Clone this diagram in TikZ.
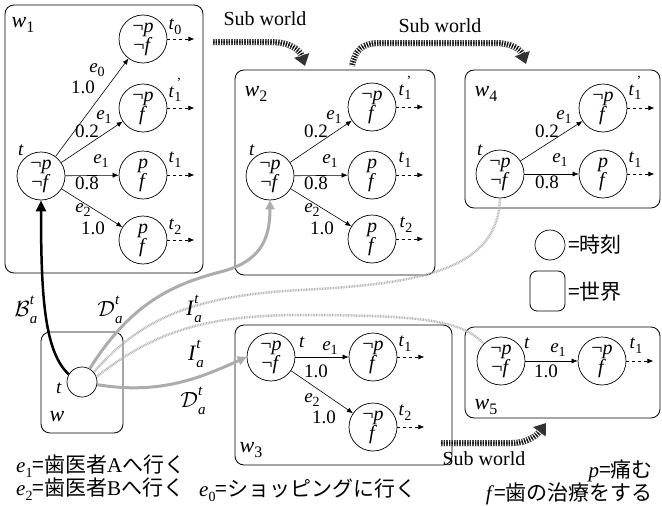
\RequirePackage{fix-cm}
\documentclass[tikz,border=0pt]{standalone}
\usepackage{fontspec}
\setmainfont{Liberation Serif}
\newfontfamily\cjk{Noto Sans CJK JP}
\usetikzlibrary{arrows.meta}
\newcommand{\sbs}[1]{\raisebox{-0.25em}{\fontsize{14}{14}\selectfont #1}}
\newcommand{\sbw}[1]{\raisebox{-0.25em}{\fontsize{16}{16}\selectfont #1}}
\newcommand{\iv}[2]{\textit{#1}\sbs{#2}}
\newcommand{\wv}[2]{\textit{#1}\sbw{#2}}
\newcommand{\tpr}{\textit{t}\rlap{\raisebox{0.5em}{\fontsize{14}{14}\selectfont\,’}}\sbs{1}}
\newcommand{\rel}[1]{#1\rlap{\raisebox{0.55em}{\fontsize{15}{15}\selectfont\textit{t}}}\raisebox{-0.3em}{\fontsize{15}{15}\selectfont\textit{a}}}
\newcommand{\nn}{¬\textit{p}\\¬\textit{f}}
\newcommand{\nf}{¬\textit{p}\\\textit{f}}
\newcommand{\pf}{\textit{p}\\\textit{f}}
\tikzset{
  st/.style={circle, draw, line width=0.7pt, minimum size=48pt, inner sep=0pt, align=center,
             font=\fontsize{20}{19}\selectfont},
  wbox/.style={draw, rounded corners=9pt, line width=0.8pt},
  edg/.style={-{Latex[length=6pt,width=5pt]}, line width=0.6pt},
  cont/.style={dashed, line width=0.6pt, -{Latex[length=6pt,width=5pt]}},
  lbl/.style={inner sep=0pt, font=\fontsize{19}{19}\selectfont},
  mlbl/.style={inner sep=0pt, font=\fontsize{22}{22}\selectfont},
  wl/.style={inner sep=0pt, font=\fontsize{22}{22}\selectfont},
  dline/.style={line width=3pt, draw=gray!65, -{Triangle[length=9pt,width=9pt]}},
  iline/.style={line width=2.5pt, draw=gray!60, dash pattern=on 0.8pt off 0.8pt},
  bline/.style={line width=2.5pt, draw=black, -{Triangle[length=11pt,width=10pt]}},
  subbase/.style={line width=6pt, draw=black!80, -{Triangle[length=11pt,width=15pt]}},
  subover/.style={line width=6pt, draw=white, dash pattern=on 1pt off 1.6pt, shorten >=11pt},
  subover2/.style={line width=2pt, draw=black, dash pattern=on 1pt off 1.6pt, dash phase=1.3pt, shorten >=11pt},
  cjkt/.style={inner sep=0pt, font=\fontsize{21}{21}\selectfont},
  cjkl/.style={inner sep=0pt, font=\cjk\fontsize{21}{21}\selectfont},
}
\begin{document}
\begin{tikzpicture}[x=1pt,y=-1pt]
\useasboundingbox (0,0) rectangle (662,506);

% ---------- world boxes ----------
\draw[wbox] (5,5) rectangle (203,273);
\draw[wbox] (235,70) rectangle (435,275);
\draw[wbox] (465,70) rectangle (660,208);
\draw[wbox] (235,325) rectangle (452,465);
\draw[wbox] (465,327) rectangle (660,418);
\draw[wbox] (41,332) rectangle (123,433);

\node[wl] (lw1) at (23,25) {\wv{w}{1}};
\node[wl] (lw2) at (256,94) {\wv{w}{2}};
\node[wl] (lw4) at (486,94) {\wv{w}{4}};
\node[wl] (lw3) at (251,450) {\wv{w}{3}};
\node[wl] (lw5) at (486,407) {\wv{w}{5}};
\node[wl] (lw) at (57,417) {\textit{w}};

% ---------- w1 ----------
\node[st] (a) at (41,176) {\nn};
\node[st] (a0) at (143,39) {\nn};
\node[st] (a1p) at (143,108) {\nf};
\node[st] (a1) at (143,175) {\pf};
\node[st] (a2) at (143,240) {\pf};
\draw[edg] (a) -- (a0);
\draw[edg] (a) -- (a1p);
\draw[edg] (a) -- (a1);
\draw[edg] (a) -- (a2);
\node[lbl] (ae0) at (97,70) {\iv{e}{0}};
\node[lbl] (ap0) at (83,87) {1.0};
\node[lbl] (ae1p) at (104,117) {\iv{e}{1}};
\node[lbl] (ap1p) at (87,131) {0.2};
\node[lbl] (ae1) at (101,161) {\iv{e}{1}};
\node[lbl] (ap1) at (87,183) {0.8};
\node[lbl] (ae2) at (83,210) {\iv{e}{2}};
\node[lbl] (ap2) at (93,228) {1.0};
\node[lbl] (at) at (21,150) {\textit{t}};
\node[lbl] (at0) at (175,27) {\iv{t}{0}};
\node[lbl] (at1p) at (175,90) {\tpr};
\node[lbl] (at1) at (175,160) {\iv{t}{1}};
\node[lbl] (at2) at (175,227) {\iv{t}{2}};
\foreach \n in {a0,a1p,a1,a2} {
  \coordinate (\n x) at ([xshift=27pt]\n.east);
  \draw[cont] (\n.east) -- (\n x);
}

% ---------- w2 ----------
\node[st] (b) at (270,176) {\nn};
\node[st] (b1p) at (372,107) {\nf};
\node[st] (b1) at (372,175) {\pf};
\node[st] (b2) at (372,239) {\pf};
\draw[edg] (b) -- (b1p);
\draw[edg] (b) -- (b1);
\draw[edg] (b) -- (b2);
\node[lbl] (be1p) at (334,117) {\iv{e}{1}};
\node[lbl] (bp1p) at (316,131) {0.2};
\node[lbl] (be1) at (330,161) {\iv{e}{1}};
\node[lbl] (bp1) at (316,183) {0.8};
\node[lbl] (be2) at (312,210) {\iv{e}{2}};
\node[lbl] (bp2) at (322,228) {1.0};
\node[lbl] (bt) at (252,150) {\textit{t}};
\node[lbl] (bt1p) at (405,88) {\tpr};
\node[lbl] (bt1) at (405,160) {\iv{t}{1}};
\node[lbl] (bt2) at (406,225) {\iv{t}{2}};
\foreach \n in {b1p,b1,b2} {
  \coordinate (\n x) at ([xshift=27pt]\n.east);
  \draw[cont] (\n.east) -- (\n x);
}

% ---------- w4 ----------
\node[st] (c) at (500,174) {\nn};
\node[st] (c1p) at (603,108) {\nf};
\node[st] (c1) at (603,174) {\pf};
\draw[edg] (c) -- (c1p);
\draw[edg] (c) -- (c1);
\node[lbl] (ce1p) at (564,117) {\iv{e}{1}};
\node[lbl] (cp1p) at (547,131) {0.2};
\node[lbl] (ce1) at (560,160) {\iv{e}{1}};
\node[lbl] (cp1) at (547,182) {0.8};
\node[lbl] (ct) at (480,150) {\textit{t}};
\node[lbl] (ct1p) at (635,88) {\tpr};
\node[lbl] (ct1) at (635,160) {\iv{t}{1}};
\foreach \n in {c1p,c1} {
  \coordinate (\n x) at ([xshift=27pt]\n.east);
  \draw[cont] (\n.east) -- (\n x);
}

% ---------- w3 ----------
\node[st] (d) at (271,357) {\nn};
\node[st] (d1) at (373,357) {\nf};
\node[st] (d2) at (373,427) {\nf};
\draw[edg] (d) -- (d1);
\draw[edg] (d) -- (d2);
\node[lbl] (de1) at (330,348) {\iv{e}{1}};
\node[lbl] (dp1) at (316,371) {1.0};
\node[lbl] (de2) at (312,400) {\iv{e}{2}};
\node[lbl] (dp2) at (324,417) {1.0};
\node[lbl] (dt) at (302,342) {\textit{t}};
\node[lbl] (dt1) at (405,344) {\iv{t}{1}};
\node[lbl] (dt2) at (405,413) {\iv{t}{2}};
\foreach \n in {d1,d2} {
  \coordinate (\n x) at ([xshift=27pt]\n.east);
  \draw[cont] (\n.east) -- (\n x);
}

% ---------- w5 ----------
\node[st] (f) at (501,361) {\nn};
\node[st] (f1) at (602,361) {\nf};
\draw[edg] (f) -- (f1);
\node[lbl] (fe1) at (558,350) {\iv{e}{1}};
\node[lbl] (fp1) at (546,371) {1.0};
\node[lbl] (ft) at (527,343) {\textit{t}};
\node[lbl] (ft1) at (636,346) {\iv{t}{1}};
\coordinate (f1x) at ([xshift=27pt]f1.east);
\draw[cont] (f1.east) -- (f1x);

% ---------- w ----------
\node[circle, draw, line width=0.7pt, minimum size=30pt, inner sep=0pt] (g) at (82,382) {};
\node[lbl] (gt) at (59,388) {\textit{t}};

% ---------- relations ----------
\draw[iline] (g.40) .. controls (140,320) and (190,296) .. (300,290)
   .. controls (420,284) and (498,270) .. (c.south);
\draw[iline] (g.20) .. controls (150,335) and (200,315) .. (300,315)
   .. controls (420,315) and (462,320) .. (f.135);
\draw[dline] (g.60) .. controls (130,305) and (170,285) .. (220,272)
   .. controls (260,262) and (270,240) .. (b.south);
\draw[dline] (g.-10) .. controls (160,395) and (200,378) .. (d.west);
\draw[bline] (g.150) .. controls (45,352) and (41,300) .. (a.south);

\node[mlbl] (lB) at (26,310) {\rel{$\mathcal{B}$}};
\node[mlbl] (lD1) at (110,310) {\rel{$\mathcal{D}$}};
\node[mlbl] (lI1) at (194,309) {\rel{\textit{I}}};
\node[mlbl] (lI2) at (196,354) {\rel{\textit{I}}};
\node[mlbl] (lD2) at (193,401) {\rel{$\mathcal{D}$}};

% ---------- sub world arrows ----------
\coordinate (s1a) at (212,42);
\coordinate (s1b) at (305,66);
\coordinate (s2a) at (352,66);
\coordinate (s2b) at (526,64);
\coordinate (s3a) at (440,443);
\coordinate (s3b) at (546,423);
\foreach \st in {subbase,subover,subover2} {
  \draw[\st] (s1a) -- (270,42) .. controls (290,42) and (300,50) .. (s1b);
  \draw[\st] (s2a) .. controls (355,50) and (362,43) .. (380,43) -- (495,43)
     .. controls (512,43) and (521,50) .. (s2b);
  \draw[\st] (s3a) -- (512,443) .. controls (528,443) and (537,435) .. (s3b);
}
\node[lbl, font=\fontsize{20}{20}\selectfont] (sw1) at (265,19) {Sub world};
\node[lbl, font=\fontsize{20}{20}\selectfont] (sw2) at (440,26) {Sub world};
\node[lbl, font=\fontsize{20}{20}\selectfont] (sw3) at (484,459) {Sub world};

% ---------- legend ----------
\node[circle, draw, line width=0.7pt, minimum size=30pt, inner sep=0pt] (lc) at (550,245) {};
\draw[wbox, rounded corners=7pt] (530,271) rectangle (565,311);
\node[cjkl, anchor=west] (lct) at (568,245) {=時刻};
\node[cjkl, anchor=west] (lbt) at (568,292) {=世界};

% ---------- bottom texts ----------
\node[cjkt, anchor=west] (te1) at (16,466)
  {\iv{e}{1}{\cjk =歯医者}A{\cjk へ行く}};
\node[cjkt, anchor=west] (te2) at (16,489)
  {\iv{e}{2}{\cjk =歯医者}B{\cjk へ行く}};
\node[cjkt, anchor=west] (te0) at (199,490)
  {\iv{e}{0}{\cjk =ショッピングに行く}};
\node[cjkt, anchor=east] (tp) at (653,471)
  {\textit{p}{\cjk =痛む}};
\node[cjkt, anchor=east] (tf) at (653,494)
  {\textit{f}{\cjk =歯の治療をする}};
\end{tikzpicture}
\end{document}
